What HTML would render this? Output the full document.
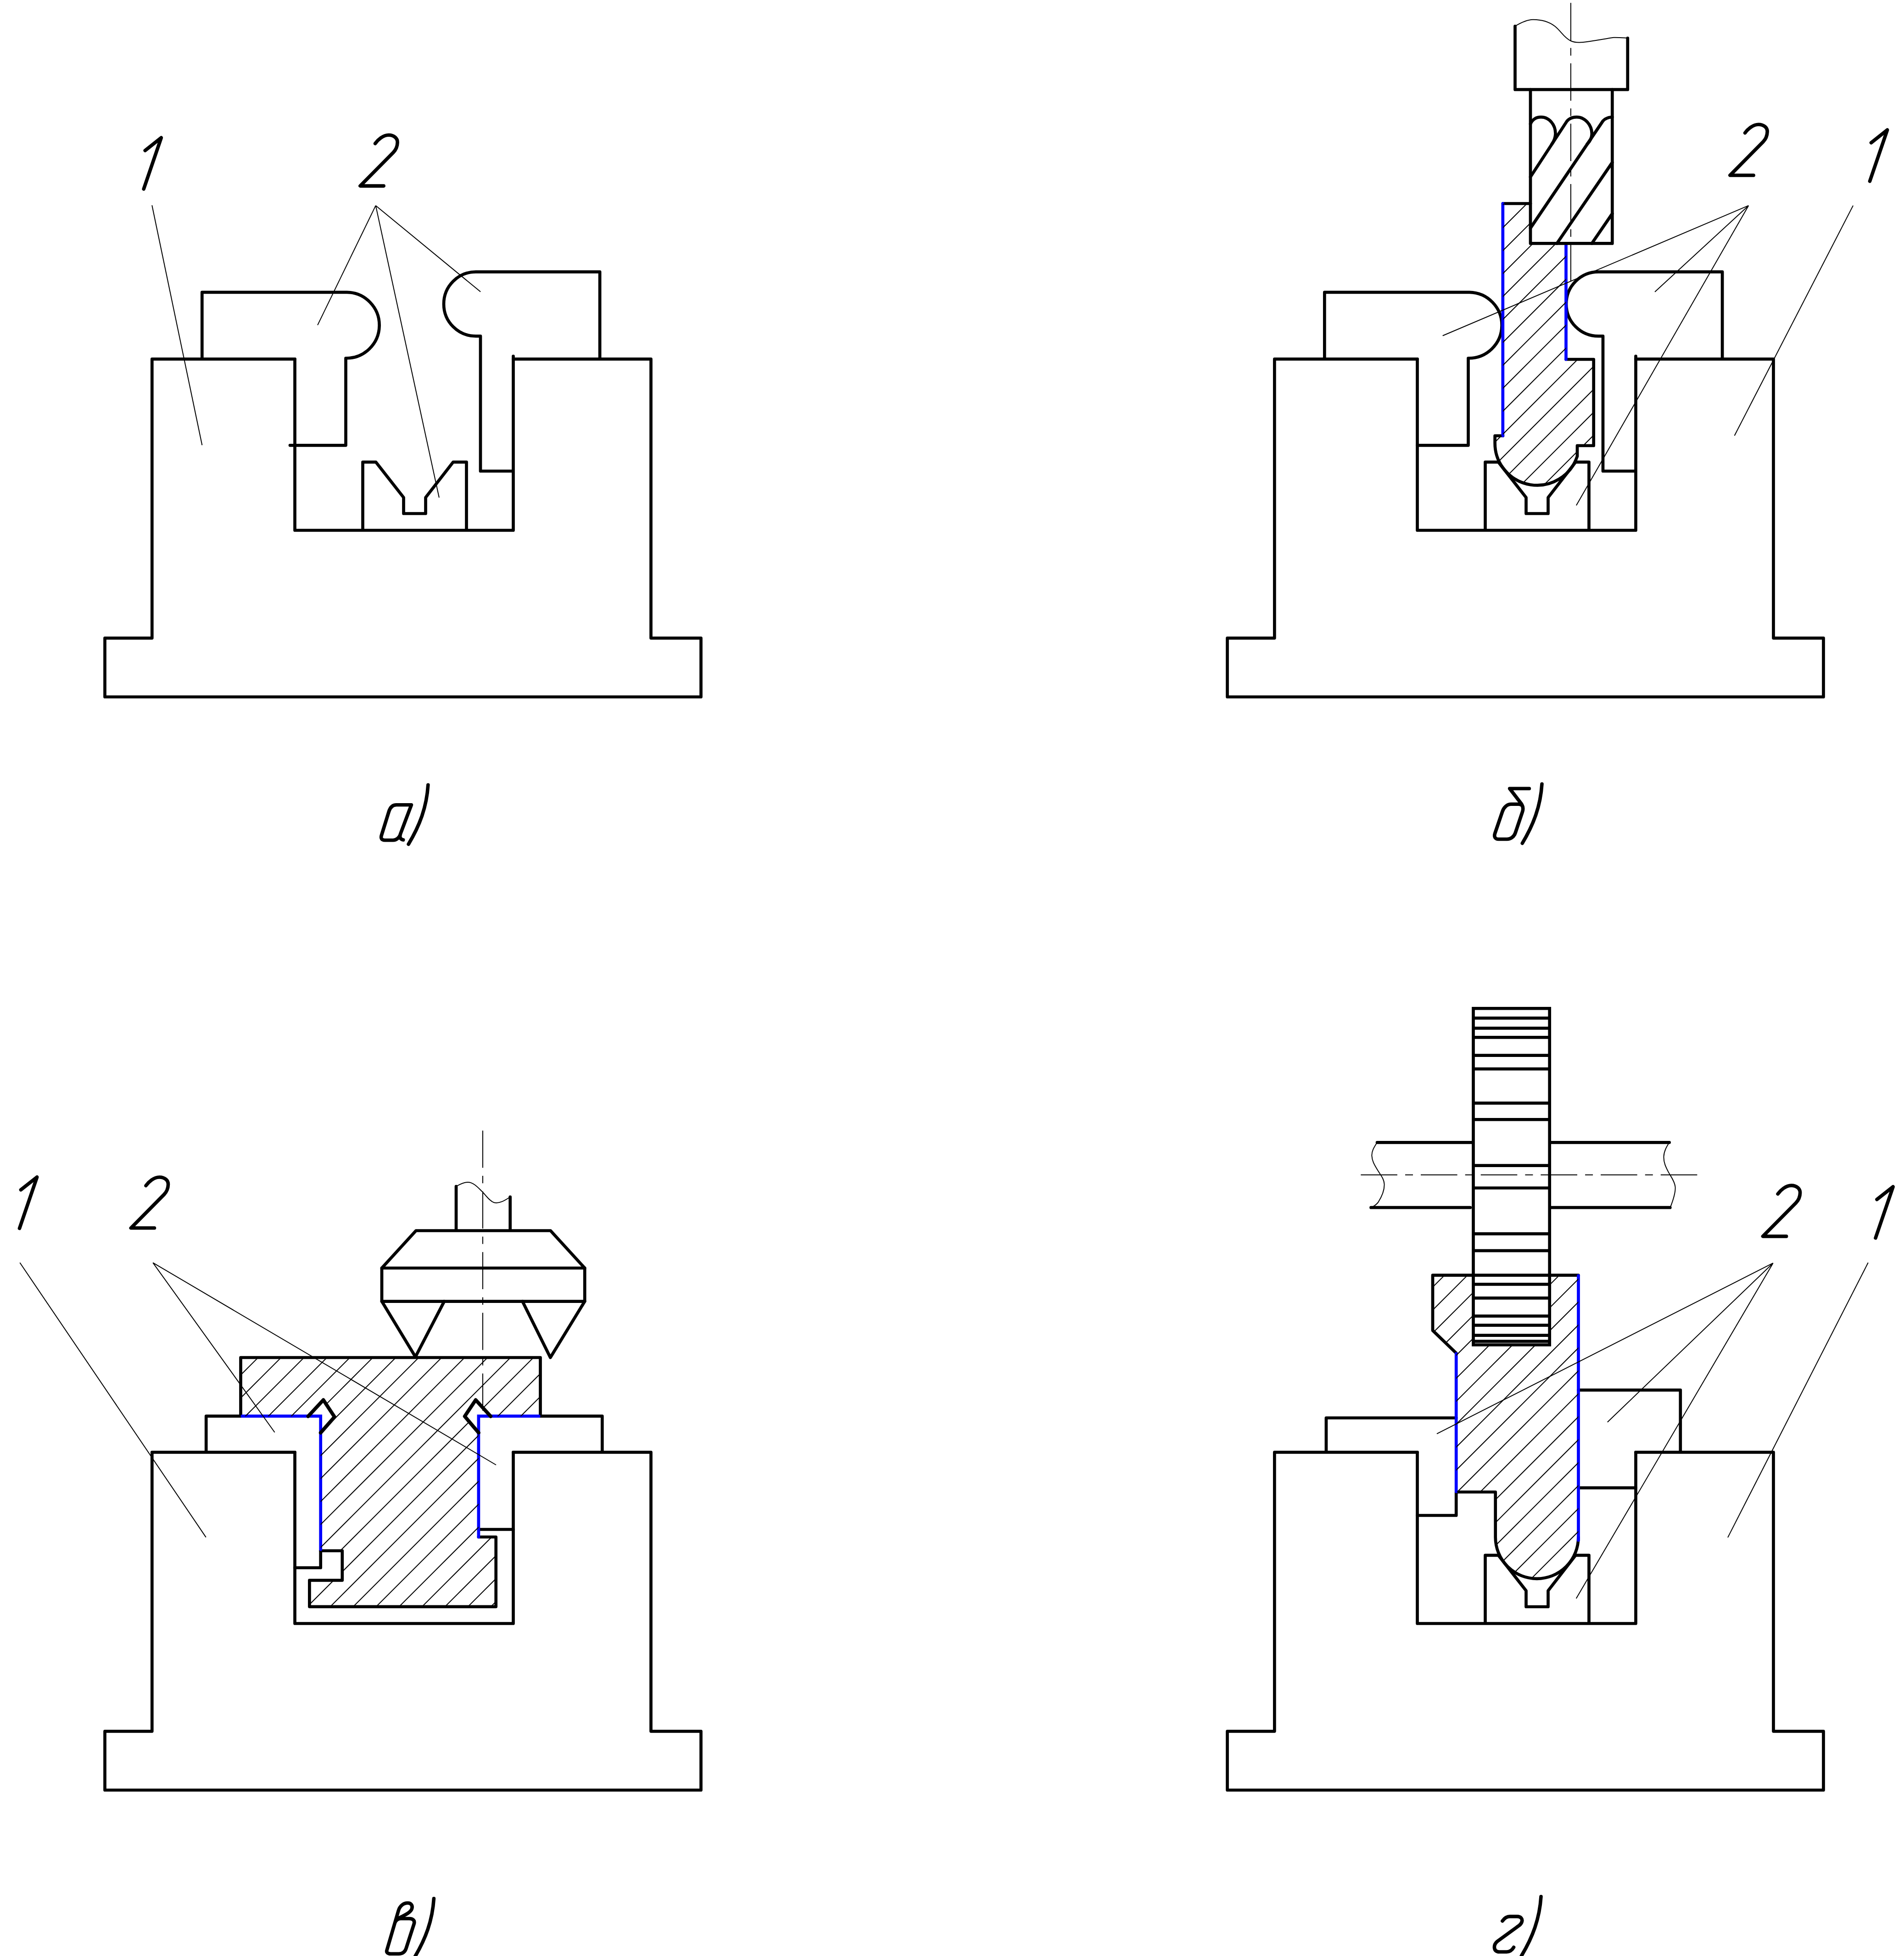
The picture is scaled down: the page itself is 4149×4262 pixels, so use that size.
<!DOCTYPE html>
<html><head><meta charset="utf-8"><title>Схемы установки</title>
<style>
html,body{margin:0;padding:0;background:#fff;}
body{width:4149px;height:4262px;overflow:hidden;font-family:"Liberation Sans",sans-serif;}
svg{display:block;}
.k path,.k line,path.k{fill:none;stroke:#000;stroke-width:6.7;stroke-linecap:round;stroke-linejoin:round;}
.t path,path.t{fill:none;stroke:#000;stroke-width:2.0;stroke-linecap:butt;}
.b path,path.b{fill:none;stroke:#0000ff;stroke-width:6.7;stroke-linecap:round;stroke-linejoin:miter;}
path.g{fill:none;stroke:#000;stroke-width:7.6;stroke-linecap:round;stroke-linejoin:round;}
</style></head><body>
<svg width="4149" height="4262" viewBox="0 0 4149 4262">
<rect x="0" y="0" width="4149" height="4262" fill="#fff"/>
<defs>
<clipPath id="cb"><path d="M3275,443.5 H3335 V530.5 H3412.5 V783 H3472.7 V971 H3437 V994.1 A92,92 0 0 1 3257.6,965.1 V949.5 H3275 Z"/></clipPath>
<clipPath id="cc"><path d="M524.5,2958 H1177.5 V3086 H1069.3 L1036.6,3050.4 L1012.6,3086.1 L1042.9,3121.8 V3349 H1080.7 V3500.8 H674.4 V3443.3 H745.8 V3379 H698.7 V3121.8 L729,3087.4 L704.6,3050.4 L671.4,3086.1 H524.5 Z"/></clipPath>
<clipPath id="cd"><path d="M3122,2778.7 H3210.5 V2930.3 H3376.7 V2778.7 H3439.4 V3349.5 A90.35,90.35 0 0 1 3258.7,3349.5 V3251 H3173.2 V2948.3 L3122,2899 Z"/></clipPath>
</defs>

<!-- a -->
<g transform="translate(0,0)" class="k"><path d="M642.5,782.4 H331.3 V1390.3 H228.5 V1518.5 H1527.5 V1390.3 H1418.5 V782.4 H1118.5"/><path d="M642.5,782.4 V1155.5 H1118.5 V776"/></g>
<g transform="translate(0,0)" class="k"><path d="M790.5,1152 V1006.8 H819 L879.5,1084 V1119 H927.5 V1084 L987.5,1006.8 H1016.5 V1152"/></g>
<g transform="translate(0,0)" class="k"><path d="M440.3,780 V636.8 H756 A71.7,71.7 0 0 1 753.5,780.5 V970.3 H632"/><path d="M1307.1,780 V592.4 H1037 A70,70 0 0 0 1037,732.4 H1047 V1026.5 H1116"/></g>
<g class="t"><path d="M331.2,447.3 L440.4,970"/><path d="M818.7,447.9 L692.1,708.4 M818.7,447.9 L956.9,1084.3 M818.7,447.9 L1047.1,635.8"/></g>
<path class="g" d="M316.2,327.9 L351.4,300.1 L313.2,411.8"/>
<path class="g" d="M817.6,312.7 C823.4,304.6 834.9,294.3 847.0,294.3 C858.9,294.3 866.5,301.6 866.1,310.3 C865.9,319.1 862.9,326.1 856.9,332.3 L784.9,405.1 H836.1"/>
<path class="g" d="M896.4,1753.8 H864 C855,1753.8 850,1760 847.5,1768 L831.5,1819.5 C829,1827 832,1830.7 838.5,1830.7 H856.5 C864,1830.7 870,1825 872.3,1818.5 M896.4,1753.8 L872.6,1817 C870,1825 873,1829 878.6,1830"/>
<path class="g" d="M932.8,1710.3 C929.8,1758.3 914.8,1798.3 890.1,1839.5"/>
<!-- b -->
<g transform="translate(2446,0)" class="k"><path d="M642.5,782.4 H331.3 V1390.3 H228.5 V1518.5 H1527.5 V1390.3 H1418.5 V782.4 H1118.5"/><path d="M642.5,782.4 V1155.5 H1118.5 V776"/></g>
<g transform="translate(2446,0)" class="k"><path d="M790.5,1152 V1006.8 H819 L879.5,1084 V1119 H927.5 V1084 L987.5,1006.8 H1016.5 V1152"/></g>
<g transform="translate(2446,0)" class="k"><path d="M440.3,780 V636.8 H756 A71.7,71.7 0 0 1 753.5,780.5 V970.3 H642.5"/><path d="M1307.1,780 V592.4 H1037 A70,70 0 0 0 1037,732.4 H1047 V1026.5 H1116"/></g>
<g class="k"><path d="M3275,443.5 H3335"/><path d="M3275,949.5 H3257.6 V965.1 A92,92 0 0 0 3437,994.1 V971 H3472.7 V783 H3412.5"/></g>
<g class="b"><path d="M3274.8,443.5 V949.5"/><path d="M3412.5,530.5 V783"/></g>
<g clip-path="url(#cb)" class="t"><path d="M3250,371.0 L3480,141.0"/><path d="M3250,421.0 L3480,191.0"/><path d="M3250,471.0 L3480,241.0"/><path d="M3250,521.0 L3480,291.0"/><path d="M3250,571.0 L3480,341.0"/><path d="M3250,621.0 L3480,391.0"/><path d="M3250,671.0 L3480,441.0"/><path d="M3250,721.0 L3480,491.0"/><path d="M3250,771.0 L3480,541.0"/><path d="M3250,821.0 L3480,591.0"/><path d="M3250,871.0 L3480,641.0"/><path d="M3250,921.0 L3480,691.0"/><path d="M3250,971.0 L3480,741.0"/><path d="M3250,1021.0 L3480,791.0"/><path d="M3250,1071.0 L3480,841.0"/><path d="M3250,1121.0 L3480,891.0"/><path d="M3250,1171.0 L3480,941.0"/><path d="M3250,1221.0 L3480,991.0"/><path d="M3250,1271.0 L3480,1041.0"/><path d="M3250,1321.0 L3480,1091.0"/></g>
<g class="k"><path d="M3301.5,57 V195.2 H3546.8 V83"/><path d="M3335,195.2 V530.4 H3513.3 V195.2"/><path d="M3335,270 C3340,259 3349,255.2 3358,255.2 C3376,255.2 3390,272 3389.5,292 C3389,302 3386,308 3381.6,314"/><path d="M3335,385.5 L3414.5,264 C3420,257.5 3428,255.2 3435.7,255.2 C3453.5,255.2 3469,272 3468.8,292 C3468.5,302 3465,308 3458.6,314"/><path d="M3335,497 L3493,263.5 C3498,258 3505,255.5 3513.3,255"/><path d="M3392.7,530.4 L3513.3,354"/><path d="M3468.8,530.4 L3513.3,465.5"/></g>
<g class="t"><path d="M3301.5,57 C3315,49 3328,43 3340,42.8 C3362,42.5 3376,48 3388,57 C3402,68 3408,82 3422.8,89 C3430,92.5 3440,93 3450,92 C3475,89 3500,84 3516.3,81.8 C3528,81.5 3538,82.5 3546.8,83"/>
<path d="M3422.9,6.3 L3422.9,87.9 M3422.9,104.6 L3422.9,121.2 M3422.9,137.9 L3422.9,219.5 M3422.9,236.2 L3422.9,252.8 M3422.9,269.5 L3422.9,351.1 M3422.9,367.8 L3422.9,384.4 M3422.9,401.1 L3422.9,482.7 M3422.9,499.4 L3422.9,516.0 M3422.9,532.7 L3422.9,613.0 "/></g>
<g class="t"><path d="M3810.3,447.9 L3143.7,731.5 M3810.3,447.9 L3606.1,636.1 M3810.3,447.9 L3434.9,1101.3"/><path d="M4038.1,447.9 L3779.6,949.2"/></g>
<path class="g" d="M3802.6,289.6 C3808.4,281.5 3819.9,271.2 3832.0,271.2 C3843.9,271.2 3851.5,278.5 3851.1,287.2 C3850.9,296.0 3847.9,303.0 3841.9,309.2 L3769.9,382.0 H3821.1"/>
<path class="g" d="M4077.5,310.9 L4112.7,283.1 L4074.5,394.8"/>
<path class="g" d="M3332.4,1718.2 H3289.6 L3315,1751 C3319,1757 3320,1762 3317.5,1769 L3302,1815 C3299,1824 3291,1828.5 3284,1828.5 H3265.5 C3258.5,1828.5 3255,1824 3257.6,1816 L3274,1768 C3277,1759 3284,1752.3 3293,1752.3 H3309 C3313,1752.3 3316,1754 3318,1757"/>
<path class="g" d="M3360.0,1708.2 C3357.0,1756.2 3342.0,1796.2 3317.3,1837.4"/>
<!-- c -->
<g transform="translate(0,2382)" class="k"><path d="M642.5,782.4 H331.3 V1390.3 H228.5 V1518.5 H1527.5 V1390.3 H1418.5 V782.4 H1118.5"/><path d="M642.5,782.4 V1155.5 H1118.5 V782.4"/></g>
<g class="k"><path d="M449.2,3162 V3085.7 H524.5"/><path d="M642.5,3416 H698.7 V3379"/><path d="M1312.3,3162 V3085.7 H1177.5"/><path d="M1118.5,3332.5 H1042.9"/></g>
<g class="k"><path d="M524.5,3085.7 V2958 H1177.5 V3085.7"/><path d="M1042.9,3349 H1080.7 V3500.8 H674.4 V3443.3 H745.8 V3379 H698.7"/></g>
<g class="b"><path d="M527.8,3085.7 H698.7 V3376"/><path d="M1174.2,3085.7 H1042.9 V3349"/></g>
<g clip-path="url(#cc)" class="t"><path d="M520,2900.5 L1185,2235.5"/><path d="M520,2950.5 L1185,2285.5"/><path d="M520,3000.5 L1185,2335.5"/><path d="M520,3050.5 L1185,2385.5"/><path d="M520,3100.5 L1185,2435.5"/><path d="M520,3150.5 L1185,2485.5"/><path d="M520,3200.5 L1185,2535.5"/><path d="M520,3250.5 L1185,2585.5"/><path d="M520,3300.5 L1185,2635.5"/><path d="M520,3350.5 L1185,2685.5"/><path d="M520,3400.5 L1185,2735.5"/><path d="M520,3450.5 L1185,2785.5"/><path d="M520,3500.5 L1185,2835.5"/><path d="M520,3550.5 L1185,2885.5"/><path d="M520,3600.5 L1185,2935.5"/><path d="M520,3650.5 L1185,2985.5"/><path d="M520,3700.5 L1185,3035.5"/><path d="M520,3750.5 L1185,3085.5"/><path d="M520,3800.5 L1185,3135.5"/><path d="M520,3850.5 L1185,3185.5"/><path d="M520,3900.5 L1185,3235.5"/><path d="M520,3950.5 L1185,3285.5"/><path d="M520,4000.5 L1185,3335.5"/><path d="M520,4050.5 L1185,3385.5"/><path d="M520,4100.5 L1185,3435.5"/><path d="M520,4150.5 L1185,3485.5"/><path d="M520,4200.5 L1185,3535.5"/></g>
<g class="k" style="stroke-width:7.5"><path style="stroke-width:7.8" d="M671.4,3086.1 L704.6,3050.4 L729,3087.4 L698.7,3121.8"/><path style="stroke-width:7.8" d="M1069.3,3086.1 L1036.6,3050.4 L1012.6,3086.1 L1042.9,3121.8"/></g>
<g class="k"><path d="M994,2585 V2679 M1111.7,2608 V2679"/><path d="M832,2763 L906.5,2681.5 H1199.6 L1274.2,2763 V2835.6 H832 Z"/><path d="M832,2763 H1274.2"/><path d="M832,2835.6 L905.3,2956.5 L968,2835.6"/><path d="M1138.5,2835.6 L1199.3,2958 L1274.2,2835.6"/></g>
<g class="t"><path d="M994,2585 C1003,2580 1011,2576 1019.3,2576 C1032,2576 1042,2588 1051.3,2597 C1060,2606 1067,2617 1076.6,2620.3 C1088,2623 1100,2616 1111.7,2608"/>
<path d="M1052.0,2463.6 L1052.0,2544.5 M1052.0,2562.1 L1052.0,2578.3 M1052.0,2595.9 L1052.0,2676.8 M1052.0,2694.4 L1052.0,2710.6 M1052.0,2728.2 L1052.0,2809.1 M1052.0,2826.7 L1052.0,2842.9 M1052.0,2860.5 L1052.0,2941.4 M1052.0,2959.0 L1052.0,2975.2 M1052.0,2992.8 L1052.0,3073.7 "/></g>
<g class="t"><path d="M43.3,2751.3 L448.8,3349.6"/><path d="M333.2,2751.3 L598.6,3121 M333.2,2751.3 L1081,3192"/></g>
<path class="g" d="M45.5,2592.6 L80.7,2564.8 L42.5,2676.5"/>
<path class="g" d="M318.0,2583.4 C323.8,2575.3 335.3,2565.0 347.4,2565.0 C359.3,2565.0 366.9,2572.3 366.5,2581.0 C366.3,2589.8 363.3,2596.8 357.3,2603.0 L285.3,2675.8 H336.5"/>
<path class="g" d="M842.9,4249.8 L868.1,4163.7 C871,4153 879,4146.5 888.5,4146.5 C896,4146.5 899.5,4152 897.5,4159 C895.5,4166 886,4171 871,4178.5 M860.5,4189.5 C863,4184 867,4180.5 873,4180.5 H892 C900,4180.5 904.5,4185 902.2,4192 L884.9,4245.6 C882.5,4253 877,4257.2 869,4257.2 H851.3 C845,4257.2 841.5,4254 842.9,4249.8"/>
<path class="g" d="M945.4,4136.8 C942.4,4184.8 927.4,4224.8 902.7,4266.0"/>
<!-- d -->
<g transform="translate(2446,2382)" class="k"><path d="M642.5,782.4 H331.3 V1390.3 H228.5 V1518.5 H1527.5 V1390.3 H1418.5 V782.4 H1118.5"/><path d="M642.5,782.4 V1155.5 H1118.5 V782.4"/></g>
<g transform="translate(2446,2382)" class="k"><path d="M790.5,1152 V1006.8 H819 L879.5,1084 V1119 H927.5 V1084 L987.5,1006.8 H1016.5 V1152"/></g>
<g class="k"><path d="M2889.9,3162 V3089.5 H3173.2"/><path d="M3088.5,3302 H3173.2 V3251"/><path d="M3661.8,3162 V3028.8 H3439.4"/><path d="M3564.5,3241.8 H3439.4"/></g>
<g class="k"><path d="M3439.4,2778.7 H3122 V2899 L3173.2,2948.3"/><path d="M3173.2,3251 H3258.7 V3349.5 A90.35,90.35 0 0 0 3439.4,3349.5"/></g>
<g class="b"><path d="M3173.2,2949.5 V3250"/><path d="M3439.5,2779.5 V3356"/></g>
<g clip-path="url(#cd)" class="t"><path d="M3115,2711.5 L3445,2381.5"/><path d="M3115,2761.5 L3445,2431.5"/><path d="M3115,2811.5 L3445,2481.5"/><path d="M3115,2861.5 L3445,2531.5"/><path d="M3115,2911.5 L3445,2581.5"/><path d="M3115,2961.5 L3445,2631.5"/><path d="M3115,3011.5 L3445,2681.5"/><path d="M3115,3061.5 L3445,2731.5"/><path d="M3115,3111.5 L3445,2781.5"/><path d="M3115,3161.5 L3445,2831.5"/><path d="M3115,3211.5 L3445,2881.5"/><path d="M3115,3261.5 L3445,2931.5"/><path d="M3115,3311.5 L3445,2981.5"/><path d="M3115,3361.5 L3445,3031.5"/><path d="M3115,3411.5 L3445,3081.5"/><path d="M3115,3461.5 L3445,3131.5"/><path d="M3115,3511.5 L3445,3181.5"/><path d="M3115,3561.5 L3445,3231.5"/><path d="M3115,3611.5 L3445,3281.5"/><path d="M3115,3661.5 L3445,3331.5"/><path d="M3115,3711.5 L3445,3381.5"/><path d="M3115,3761.5 L3445,3431.5"/><path d="M3115,3811.5 L3445,3481.5"/></g>
<g class="k"><path d="M3001,2489.3 H3210.5 M2987.5,2631.2 H3203.8 M3380,2489.3 H3637.7 M3380,2631.2 H3639.3"/><rect x="3210.5" y="2197.3" width="166.2" height="733" fill="#fff" stroke="#000" stroke-width="6.7"/><path style="stroke-linecap:butt" d="M3210.5,2218.3 H3376.7"/><path style="stroke-linecap:butt" d="M3210.5,2240.4 H3376.7"/><path style="stroke-linecap:butt" d="M3210.5,2260.3 H3376.7"/><path style="stroke-linecap:butt" d="M3210.5,2299.6 H3376.7"/><path style="stroke-linecap:butt" d="M3210.5,2329.2 H3376.7"/><path style="stroke-linecap:butt" d="M3210.5,2403.7 H3376.7"/><path style="stroke-linecap:butt" d="M3210.5,2439.4 H3376.7"/><path style="stroke-linecap:butt" d="M3210.5,2539.7 H3376.7"/><path style="stroke-linecap:butt" d="M3210.5,2588.5 H3376.7"/><path style="stroke-linecap:butt" d="M3210.5,2688.3 H3376.7"/><path style="stroke-linecap:butt" d="M3210.5,2725.1 H3376.7"/><path style="stroke-linecap:butt" d="M3210.5,2798.3 H3376.7"/><path style="stroke-linecap:butt" d="M3210.5,2828.4 H3376.7"/><path style="stroke-linecap:butt" d="M3210.5,2867.6 H3376.7"/><path style="stroke-linecap:butt" d="M3210.5,2887.6 H3376.7"/><path style="stroke-linecap:butt" d="M3210.5,2909.7 H3376.7"/><path style="stroke-linecap:butt" d="M3210.5,2922.7 H3376.7"/><path style="stroke-linecap:butt" d="M3380,2778.7 H3207"/></g>
<g class="t"><path d="M3000.9,2489.2 C2994,2500 2989,2508 2989.3,2518 C2990,2532 2997,2541 3003,2551.3 C3009,2561 3016,2569 3016.5,2580 C3017,2592 3012,2606 3003,2620 C2998,2626 2993,2629 2987.5,2631.2"/><path d="M3637.5,2489.2 C3632,2498 3626,2508 3625.5,2520 C3625,2533 3630,2543 3635.4,2553.4 C3641,2564 3649,2573 3650.5,2586 C3651.5,2598 3646,2615 3639.6,2631.2"/>
<path d="M2965.3,2560.0 L3044.9,2560.0 M3062.0,2560.0 L3079.0,2560.0 M3096.0,2560.0 L3175.6,2560.0 M3192.7,2560.0 L3209.7,2560.0 M3226.7,2560.0 L3306.3,2560.0 M3323.4,2560.0 L3340.4,2560.0 M3357.4,2560.0 L3437.0,2560.0 M3454.1,2560.0 L3471.1,2560.0 M3488.1,2560.0 L3567.7,2560.0 M3584.8,2560.0 L3601.8,2560.0 M3618.8,2560.0 L3698.4,2560.0 "/></g>
<g class="t"><path d="M3863.7,2752.2 L3131,3124.1 M3863.7,2752.2 L3502.8,3098.8 M3863.7,2752.2 L3434.7,3483"/><path d="M4070.8,2751.3 L3765,3350.1"/></g>
<path class="g" d="M3874.1,2601.5 C3879.9,2593.4 3891.4,2583.1 3903.5,2583.1 C3915.4,2583.1 3923.0,2590.4 3922.6,2599.1 C3922.4,2607.9 3919.4,2614.9 3913.4,2621.1 L3841.4,2693.9 H3892.6"/>
<path class="g" d="M4090.0,2613.6 L4125.2,2585.8 L4087.0,2697.5"/>
<path class="g" d="M3273.9,4185.7 C3278,4180 3283,4175.9 3290,4175.9 H3306 C3314,4175.9 3318,4181 3316.4,4187 C3315.5,4190.5 3314,4192.5 3311,4195 L3263,4230 C3258,4234 3256,4239 3256.5,4244 C3257,4250 3261,4253 3267,4253 H3283 C3290,4253 3295,4249 3298.5,4243.1"/>
<path class="g" d="M3358.0,4132.6 C3355.0,4180.6 3340.0,4220.6 3315.3,4261.8"/>
</svg></body></html>
